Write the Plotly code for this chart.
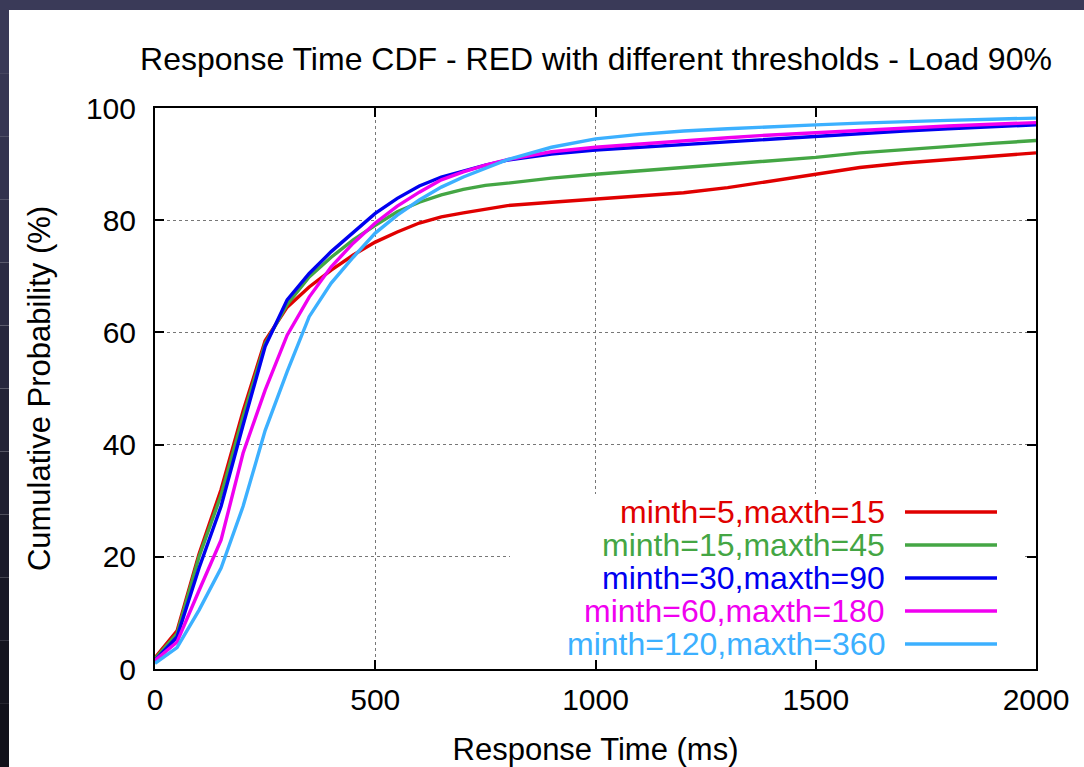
import plotly.graph_objects as go

# ---------------- data ----------------
x_ms = [0, 50, 100, 150, 200, 250, 300, 350, 400, 450, 500, 550, 600, 650, 700, 750, 800,
        900, 1000, 1100, 1200, 1300, 1400, 1500, 1600, 1700, 1800, 1900, 2000]

red_5_15 = [2.0, 6.8, 20.5, 32.0, 46.0, 58.5, 64.5, 68.1, 71.1, 73.8, 76.1, 77.9, 79.5, 80.6, 81.3, 82.0, 82.6,
            83.2, 83.8, 84.3, 84.9, 85.8, 87.0, 88.2, 89.4, 90.2, 90.8, 91.4, 92.0]
green_15_45 = [1.8, 6.3, 20.0, 31.0, 45.0, 58.0, 65.0, 69.9, 73.4, 76.5, 79.1, 81.5, 83.2, 84.5, 85.5, 86.2, 86.6,
               87.5, 88.2, 88.8, 89.3, 89.9, 90.5, 91.2, 92.0, 92.6, 93.1, 93.7, 94.2]
blue_30_90 = [1.5, 5.7, 18.0, 29.0, 43.5, 57.5, 65.8, 70.5, 74.4, 77.9, 81.2, 83.9, 86.1, 87.7, 88.8, 89.8, 90.7,
              91.8, 92.5, 93.0, 93.5, 94.0, 94.5, 95.0, 95.5, 95.9, 96.3, 96.6, 97.0]
magenta_60_180 = [1.5, 4.8, 14.0, 23.0, 38.5, 49.7, 59.5, 66.3, 71.7, 75.9, 79.5, 82.5, 85.0, 87.2, 88.6, 89.8, 90.8,
                  92.2, 93.0, 93.6, 94.1, 94.7, 95.2, 95.6, 96.0, 96.5, 96.8, 97.1, 97.4]
cyan_120_360 = [1.0, 3.8, 10.5, 18.0, 29.0, 42.5, 53.0, 62.8, 68.8, 73.4, 77.7, 80.9, 83.6, 85.9, 87.7, 89.3, 90.8,
                93.0, 94.5, 95.3, 95.9, 96.3, 96.7, 97.0, 97.3, 97.6, 97.8, 98.0, 98.2]

series_names = ["minth=5,maxth=15", "minth=15,maxth=45", "minth=30,maxth=90",
                "minth=60,maxth=180", "minth=120,maxth=360"]
series_values = [red_5_15, green_15_45, blue_30_90, magenta_60_180, cyan_120_360]
series_colors = ["#e00000", "#44a644", "#0000f0", "#f000f0", "#3cb0ff"]

x_ticks = [0, 500, 1000, 1500, 2000]
y_ticks = [0, 20, 40, 60, 80, 100]

FONT = "Liberation Sans, Arial, sans-serif"

fig = go.Figure()
for name, vals, col in zip(series_names, series_values, series_colors):
    fig.add_trace(go.Scatter(x=x_ms, y=vals, mode="lines", name=name,
                             line=dict(color=col, width=3.4), showlegend=False))

# geometry helpers (plot area: px 155..1036, py 108..669)
L, R, T, B = 155, 1036, 108, 669
W, H = R - L, B - T
def px(p):
    return (p - L) / W
def py(p):
    return (B - p) / H

shapes = []
# dark frame strips (top and left, with gradient on left)
shapes.append(dict(type="rect", xref="paper", yref="paper", x0=px(0), x1=px(1084), y0=py(10), y1=py(0),
                   fillcolor="#3a3a58", line=dict(width=0), layer="above"))
grad = ["#393957", "#363653", "#33334e", "#2f2f49", "#2b2b43", "#27273d", "#232336", "#1f1f30",
        "#1b1b2a", "#181825", "#15151f", "#12121b"]
n = len(grad)
for i, c in enumerate(grad):
    y0p = 10 + (767 - 10) * i / n
    y1p = 10 + (767 - 10) * (i + 1) / n
    shapes.append(dict(type="rect", xref="paper", yref="paper", x0=px(0), x1=px(9), y0=py(y1p), y1=py(y0p),
                       fillcolor=c, line=dict(width=0), layer="above"))

# white legend box covering grid
shapes.append(dict(type="rect", xref="paper", yref="paper", x0=px(510), x1=px(1022), y0=py(657), y1=py(494),
                   fillcolor="white", line=dict(width=0), layer="above"))

annotations = []
rows = [512, 545, 578, 611, 644]
for name, col, r in zip(series_names, series_colors, rows):
    annotations.append(dict(xref="paper", yref="paper", x=px(887), y=py(r), text=name,
                            showarrow=False, xanchor="right", yanchor="middle",
                            font=dict(family=FONT, size=32, color=col)))
    shapes.append(dict(type="line", xref="paper", yref="paper", x0=px(905), x1=px(997), y0=py(r), y1=py(r),
                       line=dict(color=col, width=3.5), layer="above"))

axis_common = dict(
    showline=True, linecolor="black", linewidth=2, mirror="ticks",
    ticks="inside", ticklen=9, tickwidth=2, tickcolor="black",
    showgrid=True, gridcolor="#777777", griddash="dot", gridwidth=1,
    zeroline=False, tickfont=dict(family=FONT, size=30, color="black"),
    automargin=False,
)

fig.update_layout(
    width=1084, height=767,
    margin=dict(l=L, r=1084 - R, t=T, b=767 - B),
    paper_bgcolor="white", plot_bgcolor="white",
    title=dict(text="Response Time CDF - RED with different thresholds - Load 90%",
               xref="container", x=596 / 1084, xanchor="center",
               yref="container", y=1 - 59 / 767, yanchor="middle",
               font=dict(family=FONT, size=32, color="black")),
    xaxis=dict(range=[0, 2000], tickvals=x_ticks, ticktext=[str(v) for v in x_ticks],
               ticklabelstandoff=3,
               title=dict(text="Response Time (ms)", font=dict(family=FONT, size=31, color="black"), standoff=23),
               **axis_common),
    yaxis=dict(range=[0, 100], tickvals=y_ticks, ticktext=[str(v) for v in y_ticks],
               ticklabelstandoff=11,
               title=dict(text="Cumulative Probability (%)", font=dict(family=FONT, size=31, color="black"), standoff=26),
               **axis_common),
    shapes=shapes, annotations=annotations,
    showlegend=False,
)

fig.write_html("out.html",
               config={"displayModeBar": False},
               post_script="document.body.style.margin='0';document.body.style.padding='0';"
                           "document.body.style.background='#2a2a40';document.body.style.overflow='hidden';")
